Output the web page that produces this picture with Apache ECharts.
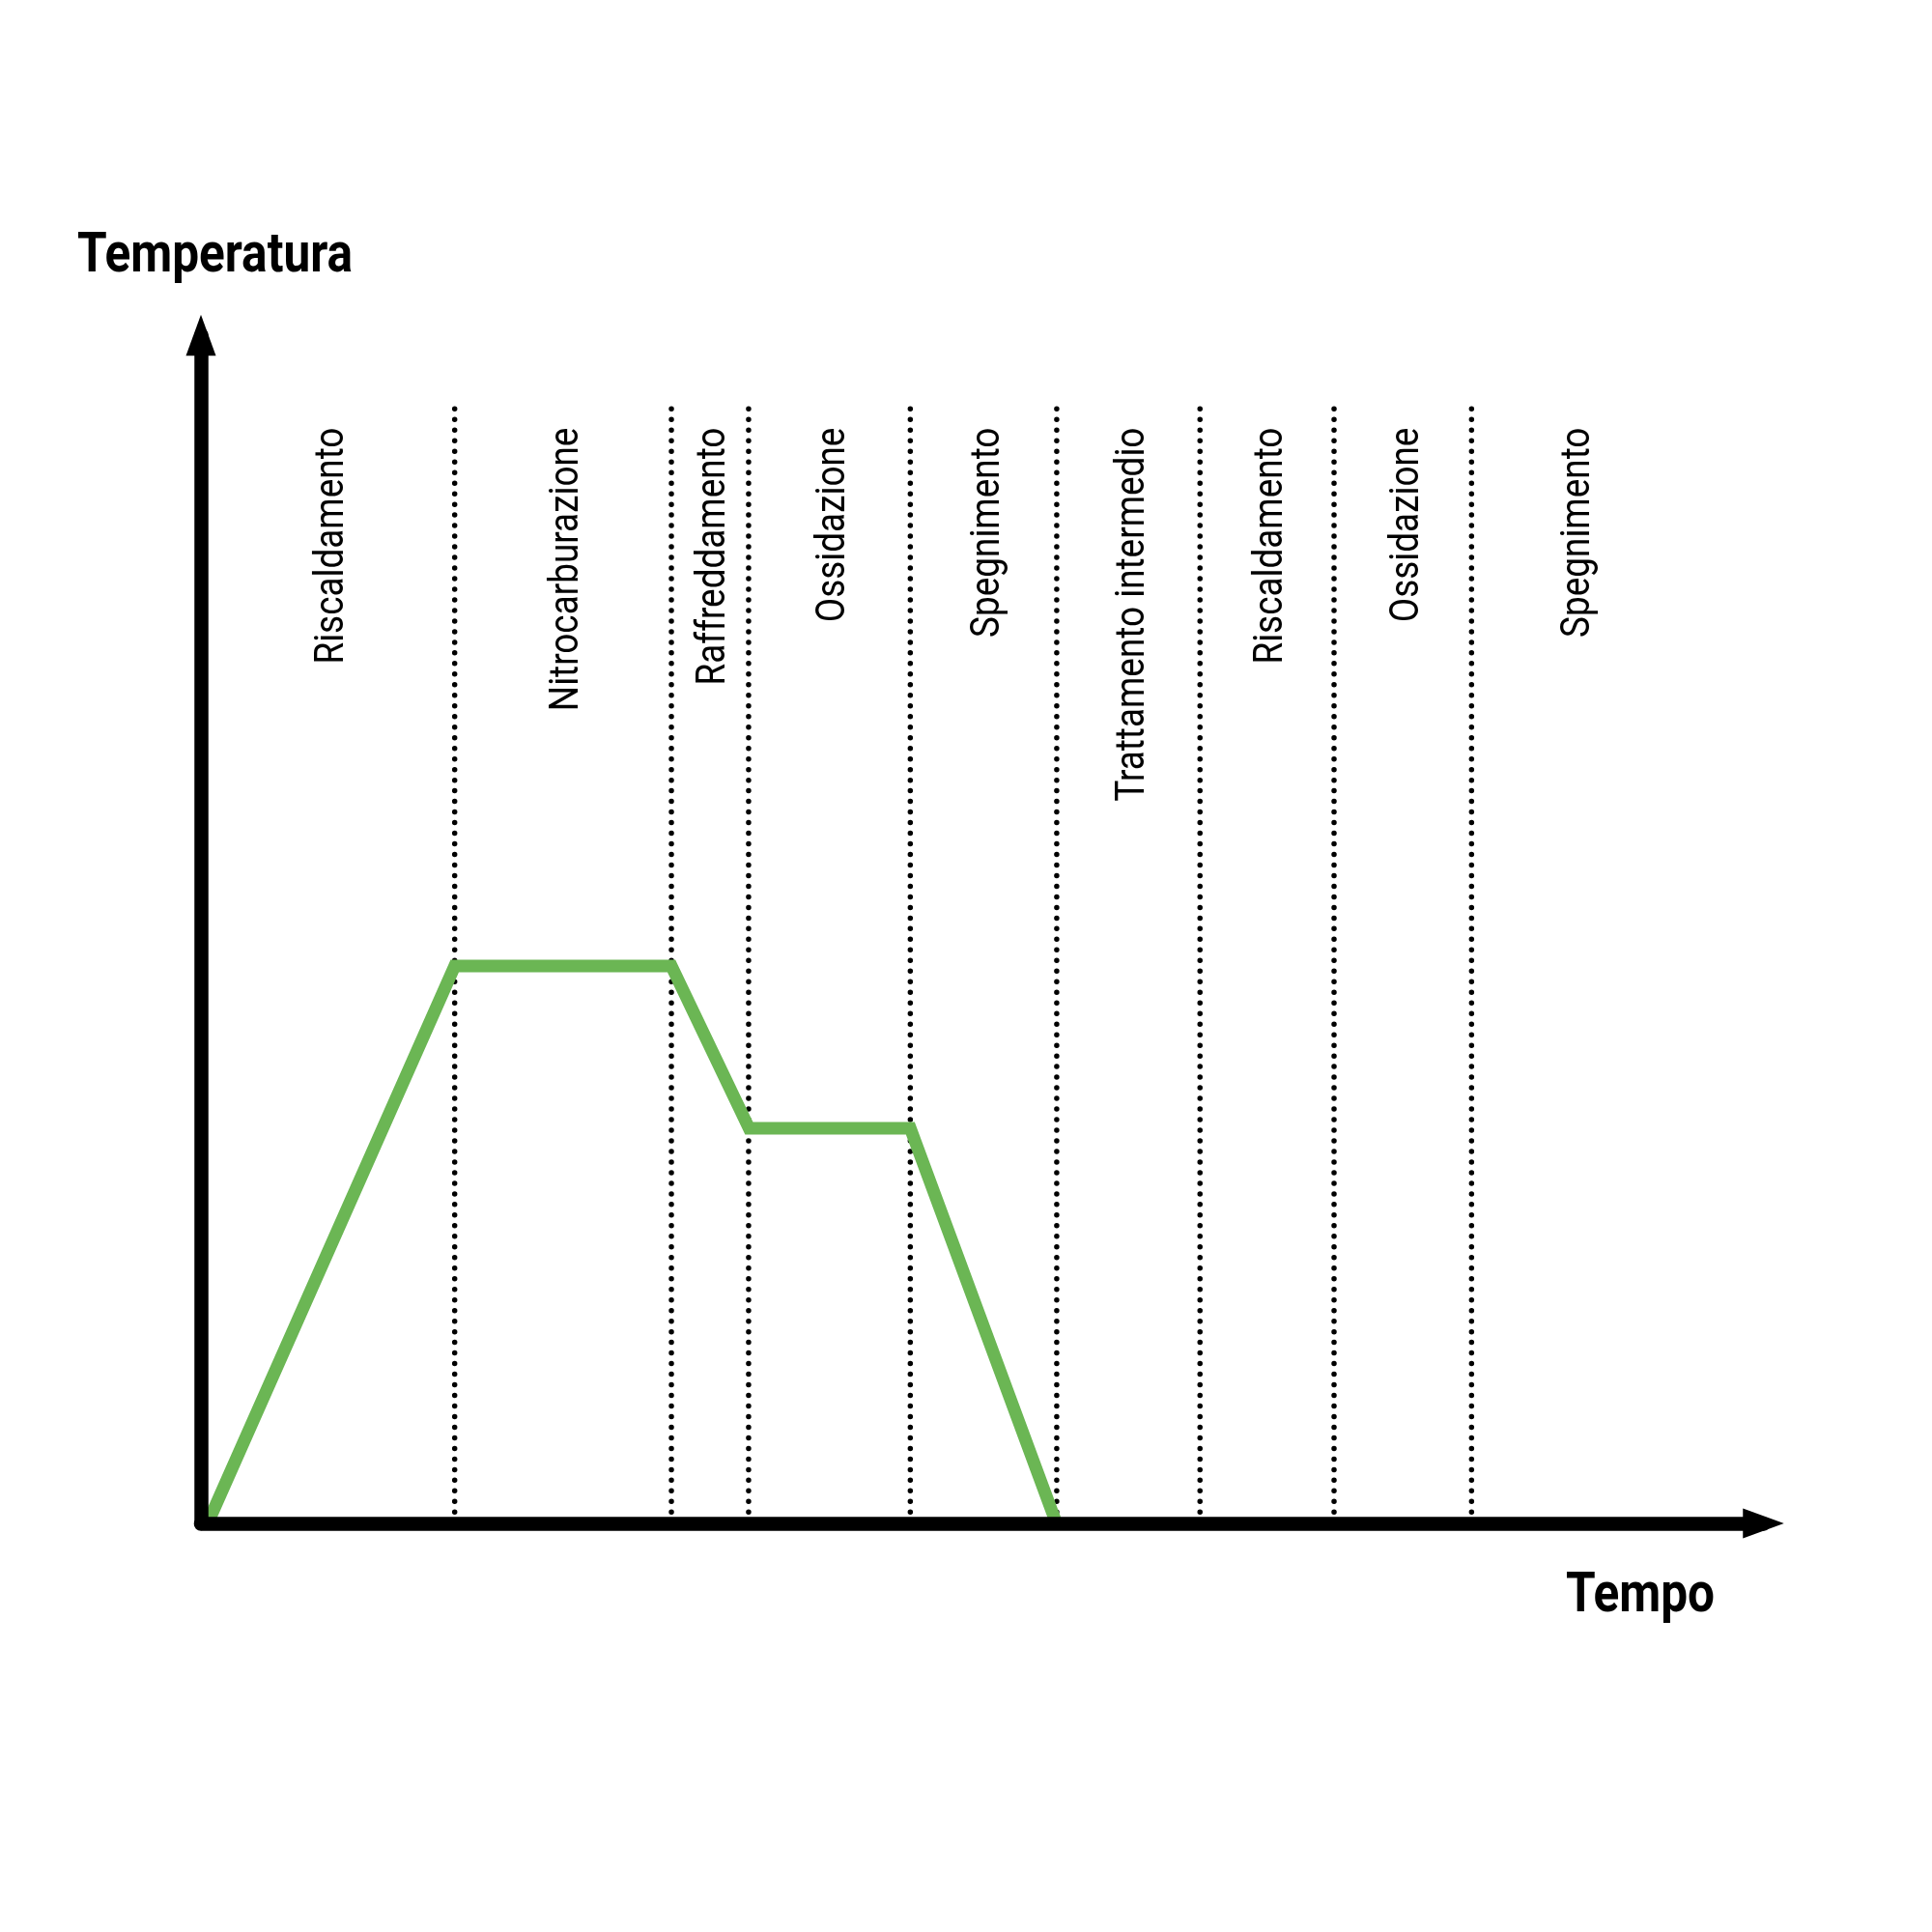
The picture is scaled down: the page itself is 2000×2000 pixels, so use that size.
<!DOCTYPE html>
<html>
<head>
<meta charset="utf-8">
<script src="https://cdn.jsdelivr.net/npm/echarts@6/dist/echarts.min.js"></script>
<style>
html,body{margin:0;padding:0;background:#fff;}
#chart{width:2000px;height:2000px;}
</style>
</head>
<body>
<div id="chart"></div>
<script>
// ---- data ----
const phaseLabels = ['Riscaldamento', 'Nitrocarburazione', 'Raffreddamento', 'Ossidazione', 'Spegnimento',
  'Trattamento intermedio', 'Riscaldamento', 'Ossidazione', 'Spegnimento'];
const phaseBounds = [0, 16.24, 30.11, 35.05, 45.40, 54.77, 63.94, 72.52, 81.32, 94.4];
const curveTime = [0.43, 16.24, 30.11, 35.08, 45.40, 54.75];
const curveTemp = [0, 577, 577, 409, 409, 0];
const xAxisName = 'Tempo';
const yAxisName = 'Temperatura';

// ---- styling ----
const FONT = "Roboto, 'DejaVu Sans Condensed', sans-serif";
const LABEL_SIZE = 42;
const TITLE_SIZE = 58;
const dividerTimes = phaseBounds.slice(1, -1);

// condensed look: horizontal compression fitted to the reference text lengths
const mctx = document.createElement('canvas').getContext('2d');
function measure(text, font) { mctx.font = font; return mctx.measureText(text).width; }
const labelFont = LABEL_SIZE + 'px ' + FONT;
const titleFont = 'bold ' + TITLE_SIZE + 'px ' + FONT;
const labelScale = 245 / measure('Riscaldamento', labelFont);
const titleScale = 285 / measure(yAxisName, titleFont);

const chart = echarts.init(document.getElementById('chart'), null, {renderer: 'canvas'});
const axisLine = {
  show: true,
  symbol: ['none', 'triangle'],
  symbolSize: [31, 42.5],
  lineStyle: {color: '#000', width: 14.5, cap: 'round'}
};
chart.setOption({
  animation: false,
  backgroundColor: '#fff',
  graphic: [
    {type: 'text', x: 80, y: 286 - 0.34 * TITLE_SIZE, scaleX: titleScale, silent: true,
     style: {text: yAxisName, font: titleFont, fill: '#000', align: 'left', verticalAlign: 'middle'}},
    {type: 'text', x: 1621, y: 1673 - 0.34 * TITLE_SIZE, scaleX: titleScale, silent: true,
     style: {text: xAxisName, font: titleFont, fill: '#000', align: 'left', verticalAlign: 'middle'}}
  ],
  grid: {left: 208, right: 174.5, top: 347, bottom: 423, containLabel: false},
  xAxis: {
    type: 'value', min: 0, max: 100, z: 10,
    axisLine: axisLine, axisTick: {show: false}, axisLabel: {show: false}, splitLine: {show: false}
  },
  yAxis: {
    type: 'value', min: 0, max: 1230, z: 10,
    axisLine: axisLine, axisTick: {show: false}, axisLabel: {show: false}, splitLine: {show: false}
  },
  series: [
    {
      type: 'custom',
      name: 'dividers',
      silent: true,
      z: 1,
      data: dividerTimes.map(t => [t, 0]),
      encode: {x: 0, y: 1},
      renderItem: function (params, api) {
        const x = api.coord([api.value(0), 0])[0];
        const cs = params.coordSys;
        const yBottom = cs.y + cs.height - 11.7;
        const yTop = cs.y + 76.3;
        const gap = (yBottom - yTop) / 104;
        return {
          type: 'line',
          shape: {x1: x, y1: yBottom, x2: x, y2: yTop - 1},
          style: {stroke: '#000', lineWidth: 5.5, lineDash: [0.001, gap - 0.001], lineCap: 'round', fill: null}
        };
      }
    },
    {
      type: 'custom',
      name: 'phases',
      silent: true,
      z: 3,
      data: phaseLabels.map((n, i) => [phaseBounds[i], phaseBounds[i + 1]]),
      encode: {x: [0, 1]},
      renderItem: function (params, api) {
        const x0 = api.coord([api.value(0), 0])[0];
        const x1 = api.coord([api.value(1), 0])[0];
        const cs = params.coordSys;
        return {
          type: 'text',
          x: (x0 + x1) / 2 + 5,
          y: cs.y + 95.6,
          rotation: Math.PI / 2,
          scaleX: labelScale,
          style: {
            text: phaseLabels[params.dataIndex],
            font: labelFont,
            fill: '#000',
            align: 'right',
            verticalAlign: 'middle'
          }
        };
      }
    },
    {
      type: 'line',
      name: 'Temperatura',
      z: 2,
      data: curveTime.map((t, i) => [t, curveTemp[i]]),
      symbol: 'none',
      lineStyle: {color: '#6bb654', width: 13, join: 'miter', cap: 'butt'}
    }
  ]
});
</script>
</body>
</html>
